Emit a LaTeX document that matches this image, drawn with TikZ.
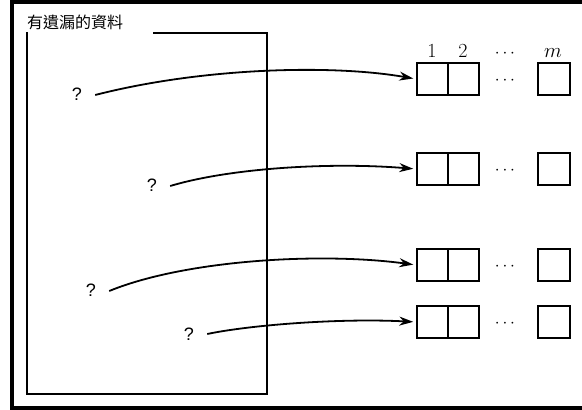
\documentclass[tikz,border=0pt]{standalone}
\usepackage{fontspec}
\setsansfont{Liberation Sans}
\newfontfamily\cjkfont{Noto Sans CJK TC}
\usetikzlibrary{arrows.meta}

\begin{document}
\begin{tikzpicture}[x=1pt,y=-1pt,
  cell/.style={draw,line width=1.5pt,minimum width=31pt,minimum height=32pt,inner sep=0pt},
  qmark/.style={font=\sffamily\fontsize{18}{21}\selectfont,inner sep=0pt},
  idx/.style={font=\fontsize{20}{24}\selectfont,inner sep=0pt},
  dotrow/.style={font=\fontsize{19}{22}\selectfont,inner sep=0pt},
  link/.style={line width=1.8pt,shorten >=3pt,-{Stealth[length=14pt,width=9pt]}},
  holder/.style={line width=1.5pt}]
\useasboundingbox (0,0) rectangle (582,410);
\clip (0,0) rectangle (582,410);

% outer frame
\draw[line width=4pt] (600,2) -- (12,2) -- (12,408) -- (600,408);

% data block with its caption
\node[anchor=west,inner sep=0pt,font=\cjkfont\fontsize{16}{18}\selectfont] (cap) at (27,22) {有遺漏的資料};
\draw[holder] (27,32) -- (27,394) -- (267,394) -- (267,33) -- (153,33);

% column headings
\node[idx] (h1) at (432,51) {1};
\node[idx] (h2) at (463,51) {2};
\node[dotrow] (hd) at (505,54) {$\cdots$};
\node[idx] (hm) at (553,53) {$m$};

% rows of cells
\foreach \r/\y in {1/79,2/169,3/265,4/322}{
  \node[cell] (c\r a) at (432.5,\y) {};
  \node[cell] (c\r b) at (463.5,\y) {};
  \node[dotrow] (d\r) at (505,\y+2) {$\cdots$};
  \node[cell,minimum width=32pt] (c\r m) at (554,\y) {};
}

% missing entries
\node[qmark] (q1) at (77,94) {?};
\node[qmark] (q2) at (152,185) {?};
\node[qmark] (q3) at (91,290) {?};
\node[qmark] (q4) at (189,334) {?};

\draw[link] ([xshift=13pt,yshift=-1pt]q1.east) .. controls (200,68) and (330,64) .. (c1a.west);
\draw[link] ([xshift=13pt,yshift=-1pt]q2.east) .. controls (230,168) and (330,162) .. (c2a.west);
\draw[link] ([xshift=13pt,yshift=-1pt]q3.east) .. controls (185,260) and (320,252) .. (c3a.west);
\draw[link] ([xshift=13pt]q4.east) .. controls (250,325) and (340,318) .. (c4a.west);
\end{tikzpicture}
\end{document}
